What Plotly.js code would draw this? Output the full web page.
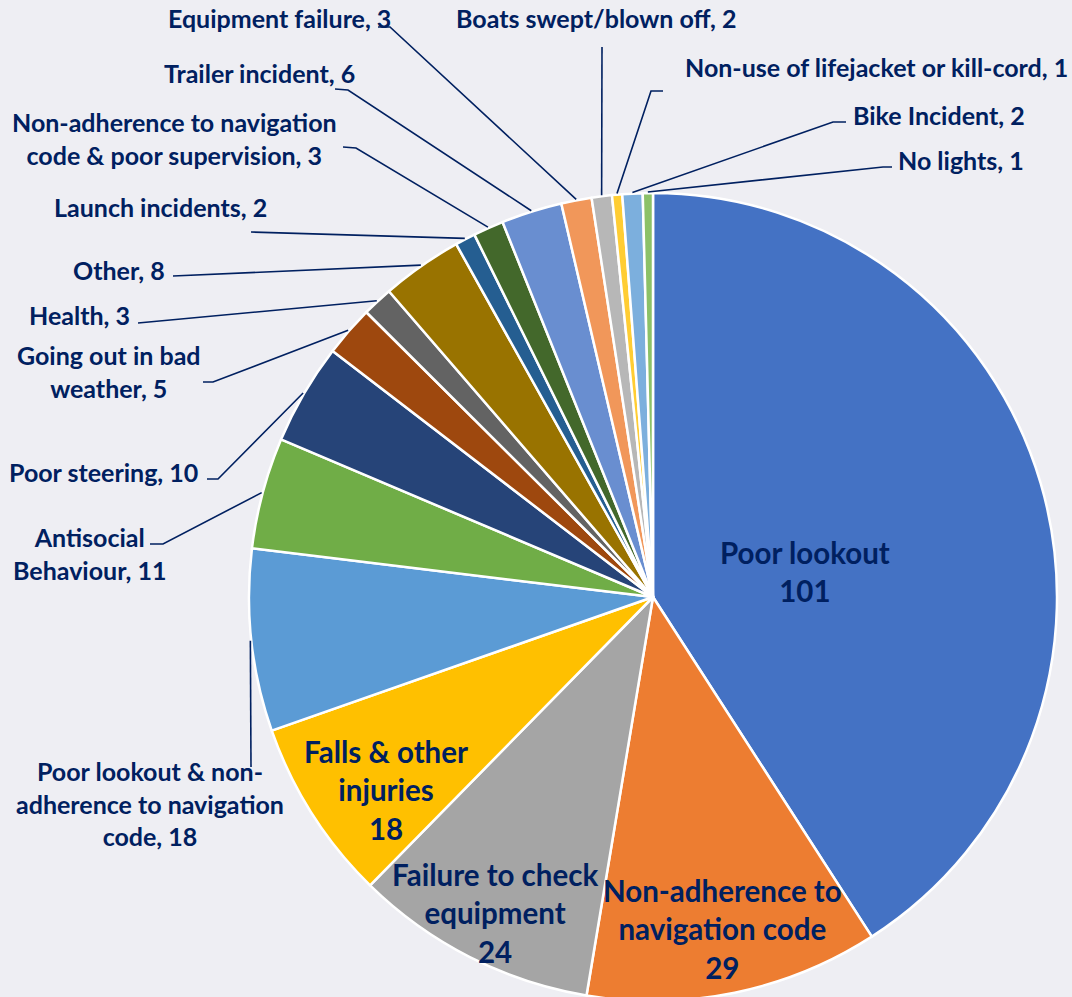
<!DOCTYPE html>
<html>
<head>
<meta charset="utf-8">
<script src="https://cdn.plot.ly/plotly-3.0.1.min.js"></script>
<style>
  html, body { margin: 0; padding: 0; overflow: hidden; background: #EEEEF3; }
  #chart { width: 1072px; height: 1010px; }
</style>
</head>
<body>
<div id="chart"></div>
<script>
// ---- data ----
const categories = [
  "Poor lookout",
  "Non-adherence to navigation code",
  "Failure to check equipment",
  "Falls & other injuries",
  "Poor lookout & non-adherence to navigation code",
  "Antisocial Behaviour",
  "Poor steering",
  "Going out in bad weather",
  "Health",
  "Other",
  "Launch incidents",
  "Non-adherence to navigation code & poor supervision",
  "Trailer incident",
  "Equipment failure",
  "Boats swept/blown off",
  "Non-use of lifejacket or kill-cord",
  "Bike Incident",
  "No lights"
];
const values = [101, 29, 24, 18, 18, 11, 10, 5, 3, 8, 2, 3, 6, 3, 2, 1, 2, 1];

// ---- styling / layout (not data) ----
const colors = ["#4472C4","#ED7D31","#A5A5A5","#FFC000","#5B9BD5","#70AD47","#264478","#9E480E",
                "#636363","#997300","#255E91","#43682B","#698ED0","#F1975A","#B7B7B7","#FFCD33",
                "#7CAFDD","#8CC168"];
// wrapped display names (line breaks only)
const wrappedNames = [
  "Poor lookout",
  "Non-adherence to<br>navigation code",
  "Failure to check<br>equipment",
  "Falls & other<br>injuries",
  "Poor lookout & non-<br>adherence to navigation<br>code",
  "Antisocial<br>Behaviour",
  "Poor steering",
  "Going out in bad<br>weather",
  "Health",
  "Other",
  "Launch incidents",
  "Non-adherence to navigation<br>code & poor supervision",
  "Trailer incident",
  "Equipment failure",
  "Boats swept/blown off",
  "Non-use of lifejacket or kill-cord",
  "Bike Incident",
  "No lights"
];
const insideCount = 4;
const W = 1072, H = 1010;
const cx = 653, cy = 597, R = 404;
// label placement in pixels: [x, y, xanchor]
const labelPos = [
  [805, 571, "center"], [722, 929, "center"], [495, 913, "center"], [386, 790, "center"],
  [150, 803, "center"], [89, 553, "center"], [200, 472, "right"], [109, 371, "center"],
  [132, 315, "right"], [167, 270, "right"], [269, 207, "right"], [174, 138, "center"],
  [357, 73, "right"], [393, 18, "right"], [596, 18, "center"], [1070, 67, "right"],
  [851, 115, "left"], [896, 160, "left"]
];
// leader lines in pixels: [elbow or null, end]
const leaders = [
  null, null, null, null,
  [null, [251, 767]],
  [[163, 544], [150, 544]],
  [[218, 479], [207, 479]],
  [[213, 382], [203, 382]],
  [null, [138, 323]],
  [null, [173, 276]],
  [null, [251, 232]],
  [[356, 148], [343, 147]],
  [[348, 90], [335, 89]],
  [[390, 27], [378, 27]],
  [null, [602, 47]],
  [[651, 91], [663, 91]],
  [[833, 122], [846, 122]],
  [[883, 167], [892, 167]]
];

const px2x = p => p / W;
const py2y = p => 1 - p / H;
const textColor = "#002060";
const total = values.reduce((a, b) => a + b, 0);

const annotations = [];
const shapes = [];
let cum = 0;
values.forEach((v, i) => {
  const mid = (cum + v / 2) / total * 2 * Math.PI;
  cum += v;
  const inside = i < insideCount;
  const txt = inside ? (wrappedNames[i] + "<br>" + v) : (wrappedNames[i] + ", " + v);
  const lp = labelPos[i];
  annotations.push({
    xref: "paper", yref: "paper", x: px2x(lp[0]), y: py2y(lp[1]),
    xanchor: lp[2], yanchor: "middle", align: "center", showarrow: false,
    text: txt,
    font: { family: "Lato, 'Open Sans', sans-serif", size: inside ? 29.5 : 25, color: textColor, weight: "bold" }
  });
  const ld = leaders[i];
  if (ld) {
    const sx = cx + (R + 1) * Math.sin(mid), sy = cy - (R + 1) * Math.cos(mid);
    let path = "M" + px2x(sx) + "," + py2y(sy);
    if (ld[0]) path += " L" + px2x(ld[0][0]) + "," + py2y(ld[0][1]);
    path += " L" + px2x(ld[1][0]) + "," + py2y(ld[1][1]);
    shapes.push({ type: "path", xref: "paper", yref: "paper", path: path,
                  line: { color: textColor, width: 1.6 } });
  }
});

const trace = {
  type: "pie",
  labels: categories,
  values: values,
  sort: false,
  direction: "clockwise",
  rotation: 0,
  textinfo: "none",
  hoverinfo: "skip",
  marker: { colors: colors, line: { color: "#FFFFFF", width: 2.5 } },
  domain: { x: [(cx - R) / W, (cx + R) / W], y: [1 - (cy + R) / H, 1 - (cy - R) / H] }
};

const layout = {
  width: W, height: H,
  margin: { l: 0, r: 0, t: 0, b: 0 },
  paper_bgcolor: "#EEEEF3",
  plot_bgcolor: "#EEEEF3",
  showlegend: false,
  annotations: annotations,
  shapes: shapes
};

Plotly.newPlot("chart", [trace], layout, { displayModeBar: false, staticPlot: true });
</script>
</body>
</html>
